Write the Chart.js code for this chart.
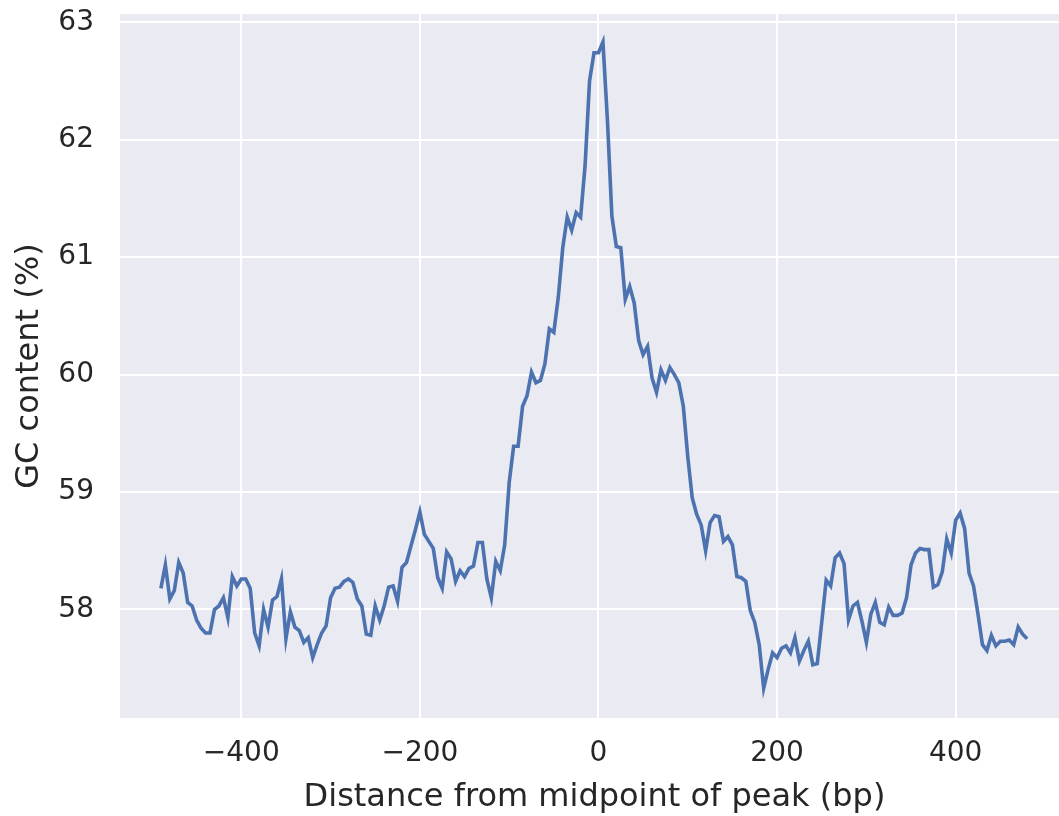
<!DOCTYPE html>
<html>
<head>
<meta charset="utf-8">
<script src="https://cdn.jsdelivr.net/npm/chart.js@4/dist/chart.umd.min.js"></script>
<style>
  html, body { margin: 0; padding: 0; background: #ffffff; overflow: hidden; }
  #wrap { width: 1059px; height: 816px; }
</style>
</head>
<body>
<div id="wrap"><canvas id="gc" width="1059" height="816"></canvas></div>
<script>
// Binned distance from the peak midpoint (bp): first bin and bin width
const distStart = -490;
const distStep = 5;

// GC content (%) per bin
const gcPercent = [
  58.18, 58.38, 58.09, 58.16, 58.40, 58.31, 58.06, 58.03, 57.91, 57.84,
  57.80, 57.80, 58.00, 58.03, 58.10, 57.93, 58.28, 58.20, 58.26, 58.26,
  58.18, 57.80, 57.69, 58.00, 57.85, 58.08, 58.11, 58.26, 57.75, 57.98,
  57.85, 57.82, 57.72, 57.76, 57.59, 57.70, 57.80, 57.86, 58.10, 58.18,
  58.19, 58.24, 58.26, 58.23, 58.09, 58.03, 57.79, 57.78, 58.03, 57.91,
  58.03, 58.19, 58.20, 58.07, 58.36, 58.40, 58.54, 58.68, 58.83, 58.64,
  58.58, 58.52, 58.27, 58.18, 58.49, 58.43, 58.24, 58.33, 58.28, 58.35,
  58.37, 58.57, 58.57, 58.26, 58.10, 58.41, 58.33, 58.55, 59.08, 59.39,
  59.39, 59.73, 59.82, 60.02, 59.93, 59.95, 60.09, 60.39, 60.36, 60.66,
  61.08, 61.34, 61.23, 61.38, 61.34, 61.78, 62.50, 62.74, 62.74, 62.83,
  62.17, 61.35, 61.09, 61.08, 60.64, 60.75, 60.61, 60.29, 60.17, 60.24,
  59.97, 59.85, 60.04, 59.95, 60.06, 60.00, 59.93, 59.73, 59.30, 58.95,
  58.81, 58.72, 58.50, 58.74, 58.80, 58.79, 58.58, 58.62, 58.55, 58.28,
  58.27, 58.24, 57.99, 57.89, 57.70, 57.33, 57.49, 57.63, 57.59, 57.67,
  57.69, 57.63, 57.76, 57.56, 57.65, 57.73, 57.53, 57.54, 57.89, 58.25,
  58.20, 58.44, 58.48, 58.39, 57.91, 58.03, 58.06, 57.90, 57.72, 57.96,
  58.06, 57.89, 57.87, 58.02, 57.95, 57.95, 57.97, 58.10, 58.38, 58.48,
  58.52, 58.51, 58.51, 58.19, 58.21, 58.32, 58.60, 58.48, 58.76, 58.82,
  58.69, 58.31, 58.20, 57.96, 57.70, 57.65, 57.78, 57.69, 57.73, 57.73,
  57.74, 57.70, 57.85, 57.79, 57.75
];

// Tick values shown on each axis
const xTicks = [-400, -200, 0, 200, 400];
const yTicks = [58, 59, 60, 61, 62, 63];

const xTitle = 'Distance from midpoint of peak (bp)';
const yTitle = 'GC content (%)';

const points = gcPercent.map((v, i) => ({ x: distStart + i * distStep, y: v }));

const ink = '#262626';
const tickFont = { family: 'DejaVu Sans', size: 28 };
const titleFont = { family: 'DejaVu Sans', size: 32 };

// Paint the seaborn-style grey panel behind the plot
const panelBg = {
  id: 'panelBg',
  beforeDraw(chart) {
    const { ctx, chartArea: a } = chart;
    ctx.save();
    ctx.fillStyle = '#EAEAF2';
    ctx.fillRect(a.left, a.top, a.right - a.left, a.bottom - a.top);
    ctx.restore();
  }
};

// Horizontal axis caption, set a fixed distance below the plot panel
const xCaption = {
  id: 'xCaption',
  afterDraw(chart) {
    const { ctx, chartArea: a } = chart;
    ctx.save();
    ctx.fillStyle = ink;
    ctx.font = `${titleFont.size}px "${titleFont.family}"`;
    ctx.textAlign = 'center';
    ctx.textBaseline = 'middle';
    ctx.fillText(xTitle, (a.left + a.right) / 2 + 5, a.bottom + 80);
    ctx.restore();
  }
};

new Chart(document.getElementById('gc'), {
  type: 'line',
  data: {
    datasets: [{
      data: points,
      borderColor: '#4C72B0',
      borderWidth: 3.6,
      pointRadius: 0,
      tension: 0,
      fill: false
    }]
  },
  options: {
    responsive: false,
    animation: false,
    devicePixelRatio: 1,
    layout: { padding: { top: 14, right: 0, left: 0, bottom: 0 } },
    plugins: { legend: { display: false }, tooltip: { enabled: false } },
    scales: {
      x: {
        type: 'linear',
        min: -535.8,
        max: 515.7,
        afterFit(s) { s.height = 98; s.paddingLeft = 0; s.paddingRight = 0; },
        afterBuildTicks(s) { s.ticks = xTicks.map(v => ({ value: v })); },
        border: { display: false },
        grid: { color: '#ffffff', lineWidth: 2, drawTicks: false },
        ticks: {
          color: ink, font: tickFont, padding: 19, maxRotation: 0,
          callback: v => (v < 0 ? '\u2212' + Math.abs(v) : String(v))
        },
        title: { display: false }
      },
      y: {
        type: 'linear',
        min: 57.076,
        max: 63.07,
        afterFit(s) { s.width = 120; s.paddingTop = 0; s.paddingBottom = 0; },
        afterBuildTicks(s) { s.ticks = yTicks.map(v => ({ value: v })); },
        border: { display: false },
        grid: { color: '#ffffff', lineWidth: 2, drawTicks: false },
        ticks: { color: ink, font: tickFont, padding: 26 },
        title: {
          display: true, text: yTitle,
          color: ink, font: titleFont, padding: { top: 10, bottom: 0 }
        }
      }
    }
  },
  plugins: [panelBg, xCaption]
});
</script>
</body>
</html>
